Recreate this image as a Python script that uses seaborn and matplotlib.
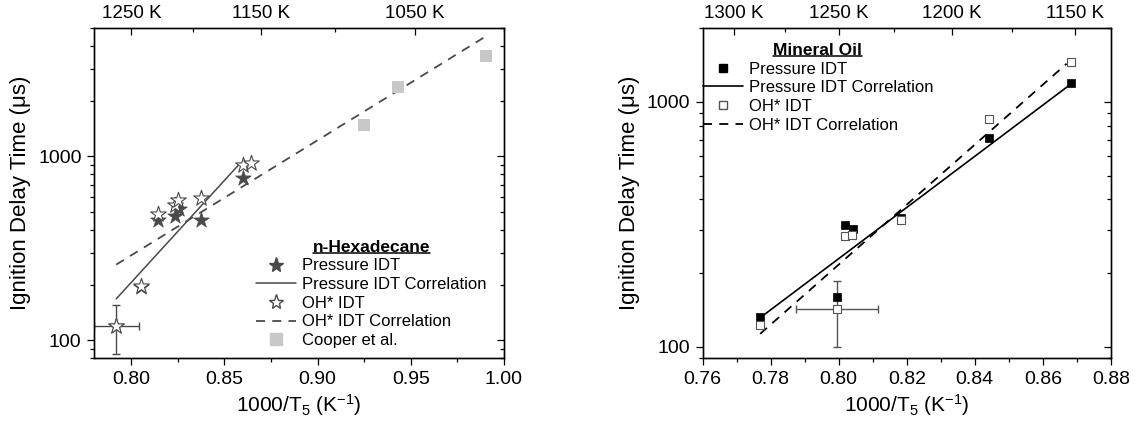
import seaborn as sns
import matplotlib.pyplot as plt
import numpy as np
import pandas as pd
from matplotlib.lines import Line2D
from matplotlib.ticker import MultipleLocator, FixedLocator, NullFormatter, FuncFormatter, LogLocator

# n-Hexadecane data
hex_p_x = [0.792, 0.805, 0.8144, 0.8237, 0.8258, 0.8376, 0.860]
hex_p_y = [120, 196, 453, 477, 520, 453, 766]
hex_oh_x = [0.792, 0.8053, 0.8144, 0.8233, 0.8251, 0.8372, 0.860, 0.8641]
hex_oh_y = [120, 197, 484, 542, 582, 596, 902, 919]
hex_p_corr_x = [0.7919, 0.8584]
hex_p_corr_y = [168, 919]
hex_oh_corr_x = [0.7919, 0.990]
hex_oh_corr_y = [258, 4490]
cooper_x = [0.9247, 0.9429, 0.9902]
cooper_y = [1486, 2382, 3507]
hex_err_x = [0.792]
hex_err_y = [120]
hex_xerr = [0.012]
hex_yerr = [36]

# Mineral oil data
oil_p_x = [0.7769, 0.7994, 0.8019, 0.8041, 0.8183, 0.8442, 0.8682]
oil_p_y = [132, 159, 313, 303, 335, 715, 1189]
oil_oh_x = [0.7769, 0.7994, 0.8019, 0.804, 0.8183, 0.8442, 0.8684]
oil_oh_y = [123, 143, 283, 285, 328, 847, 1449]
oil_p_corr_x = [0.7783, 0.8682]
oil_p_corr_y = [136, 1180]
oil_oh_corr_x = [0.7769, 0.867]
oil_oh_corr_y = [113, 1430]
oil_err_x = [0.7994]
oil_err_y = [143]
oil_xerr = [0.0121]
oil_yerr = [43]

hex_top_major = [1250, 1150, 1050]
hex_top_minor = [1200, 1100, 1000]
oil_top_major = [1300, 1250, 1200, 1150]
oil_top_minor = [1275, 1225, 1175]

sns.set_style("ticks")
plt.rcParams['font.family'] = ['Liberation Sans', 'DejaVu Sans']
plt.rcParams['mathtext.default'] = 'regular'
plt.rcParams['axes.linewidth'] = 0.9
for k in ['text.color', 'axes.labelcolor', 'xtick.color', 'ytick.color', 'axes.edgecolor']:
    plt.rcParams[k] = 'black'

fig = plt.figure(figsize=(11.4, 4.34), dpi=100)
ax1 = fig.add_axes([0.0825, 0.175, 0.3596, 0.7604])
ax2 = fig.add_axes([0.6164, 0.175, 0.358, 0.7604])

dark = "#4a4a4a"

# ---- left panel
ax1.errorbar(hex_err_x, hex_err_y, xerr=hex_xerr, yerr=hex_yerr, fmt='none',
             ecolor=dark, elinewidth=1, capsize=3, zorder=2)
sns.lineplot(x=hex_p_corr_x, y=hex_p_corr_y, ax=ax1, color=dark, lw=1.1, zorder=3)
sns.lineplot(x=hex_oh_corr_x, y=hex_oh_corr_y, ax=ax1, color=dark, lw=1.3, zorder=3,
             linestyle=(0, (5, 4)))
sns.scatterplot(x=hex_p_x, y=hex_p_y, ax=ax1, marker='*', s=140, color=dark,
                edgecolor=dark, linewidth=0.5, zorder=4)
sns.scatterplot(x=hex_oh_x, y=hex_oh_y, ax=ax1, marker='*', s=140, color='white',
                edgecolor=dark, linewidth=0.8, zorder=5)
sns.scatterplot(x=cooper_x, y=cooper_y, ax=ax1, marker='s', s=70, color='#c8c8c8',
                edgecolor='#c8c8c8', linewidth=0, zorder=4)

ax1.set_xlim(0.78, 1.00)
ax1.set_yscale('log')
ax1.set_ylim(80, 5000)
ax1.xaxis.set_major_locator(MultipleLocator(0.05))
ax1.xaxis.set_minor_locator(MultipleLocator(0.025))
ax1.xaxis.set_major_formatter(FuncFormatter(lambda v, p: f"{v:.2f}"))

# ---- right panel
ax2.errorbar(oil_err_x, oil_err_y, xerr=oil_xerr, yerr=oil_yerr, fmt='none',
             ecolor='#555555', elinewidth=1, capsize=3, zorder=2)
sns.lineplot(x=oil_p_corr_x, y=oil_p_corr_y, ax=ax2, color='black', lw=1.2, zorder=3)
sns.lineplot(x=oil_oh_corr_x, y=oil_oh_corr_y, ax=ax2, color='black', lw=1.3, zorder=3,
             linestyle=(0, (5, 4)))
sns.scatterplot(x=oil_p_x, y=oil_p_y, ax=ax2, marker='s', s=36, color='black',
                edgecolor='black', linewidth=0.5, zorder=4)
sns.scatterplot(x=oil_oh_x, y=oil_oh_y, ax=ax2, marker='s', s=36, color='white',
                edgecolor='#555555', linewidth=0.8, zorder=5)

ax2.set_xlim(0.76, 0.88)
ax2.set_yscale('log')
ax2.set_ylim(90, 2000)
ax2.xaxis.set_major_locator(MultipleLocator(0.02))
ax2.xaxis.set_minor_locator(MultipleLocator(0.01))
ax2.xaxis.set_major_formatter(FuncFormatter(lambda v, p: f"{v:.2f}"))

for ax, top_major, top_minor, ylim in [(ax1, hex_top_major, hex_top_minor, (80, 5000)),
                                        (ax2, oil_top_major, oil_top_minor, (90, 2000))]:
    ax.yaxis.set_major_locator(LogLocator(base=10))
    ax.yaxis.set_minor_locator(LogLocator(base=10, subs=np.arange(2, 10)))
    ax.yaxis.set_major_formatter(FuncFormatter(lambda v, p: f"{v:g}"))
    ax.yaxis.set_minor_formatter(NullFormatter())
    ax.tick_params(which='major', direction='out', length=5, width=0.9, labelsize=14,
                   colors='black', pad=4)
    ax.tick_params(which='minor', direction='out', length=3, width=0.9)
    ax.set_xlabel("1000/T$_5$ (K$^{-1}$)", fontsize=15, labelpad=3)
    ax.set_ylabel("Ignition Delay Time (μs)", fontsize=16, labelpad=5)
    for s in ax.spines.values():
        s.set_visible(True)
        s.set_color('black')

    axt = ax.twiny()
    axt.set_xlim(ax.get_xlim())
    axt.xaxis.set_major_locator(FixedLocator([1000 / t for t in top_major]))
    axt.xaxis.set_major_formatter(FuncFormatter(lambda v, p: f"{1000 / v:.0f} K"))
    axt.xaxis.set_minor_locator(FixedLocator([1000 / t for t in top_minor]))
    axt.tick_params(which='major', direction='in', length=5, width=0.9, labelsize=13.5, pad=4)
    axt.tick_params(which='minor', direction='in', length=3, width=0.9)

    axr = ax.twinx()
    axr.set_yscale('log')
    axr.set_ylim(ylim)
    axr.yaxis.set_minor_locator(LogLocator(base=10, subs=np.arange(2, 10)))
    axr.tick_params(which='major', direction='in', length=5, width=0.9, labelright=False)
    axr.tick_params(which='minor', direction='in', length=3, width=0.9, labelright=False)

# legends
h1 = [Line2D([], [], marker='*', ms=11, ls='none', color=dark),
      Line2D([], [], color=dark, lw=1.1),
      Line2D([], [], marker='*', ms=11, ls='none', mfc='white', mec=dark),
      Line2D([], [], color=dark, lw=1.3, ls=(0, (5, 4))),
      Line2D([], [], marker='s', ms=8, ls='none', color='#c8c8c8')]
l1 = ["Pressure IDT", "Pressure IDT Correlation", "OH* IDT", "OH* IDT Correlation", "Cooper et al."]
leg1 = ax1.legend(h1, l1, loc='lower right', bbox_to_anchor=(0.958, 0.03), frameon=False,
                  fontsize=12, title="n-Hexadecane", handlelength=2.4, labelspacing=0.22,
                  handletextpad=0.35, borderaxespad=0, borderpad=0)
leg1.get_title().set_fontweight('bold')
leg1.get_title().set_fontsize(12.5)

h2 = [Line2D([], [], marker='s', ms=6, ls='none', color='black'),
      Line2D([], [], color='black', lw=1.2),
      Line2D([], [], marker='s', ms=6, ls='none', mfc='white', mec='#555555'),
      Line2D([], [], color='black', lw=1.3, ls=(0, (5, 4)))]
l2 = ["Pressure IDT", "Pressure IDT Correlation", "OH* IDT", "OH* IDT Correlation"]
leg2 = ax2.legend(h2, l2, loc='upper left', bbox_to_anchor=(0.0, 0.955), frameon=False,
                  fontsize=12, title="Mineral Oil", handlelength=2.4, labelspacing=0.22,
                  handletextpad=0.35, borderaxespad=0, borderpad=0)
leg2.get_title().set_fontweight('bold')
leg2.get_title().set_fontsize(12.5)

# underline legend titles
fig.canvas.draw()
inv = fig.transFigure.inverted()
for leg in (leg1, leg2):
    bb = leg.get_title().get_window_extent(fig.canvas.get_renderer())
    (x0, y0), (x1, _) = inv.transform([[bb.x0, bb.y0 + 2], [bb.x1, bb.y0]])
    fig.add_artist(Line2D([x0, x1], [y0, y0], color='black', lw=1.1, transform=fig.transFigure))

fig.savefig("out.png", dpi=100)
